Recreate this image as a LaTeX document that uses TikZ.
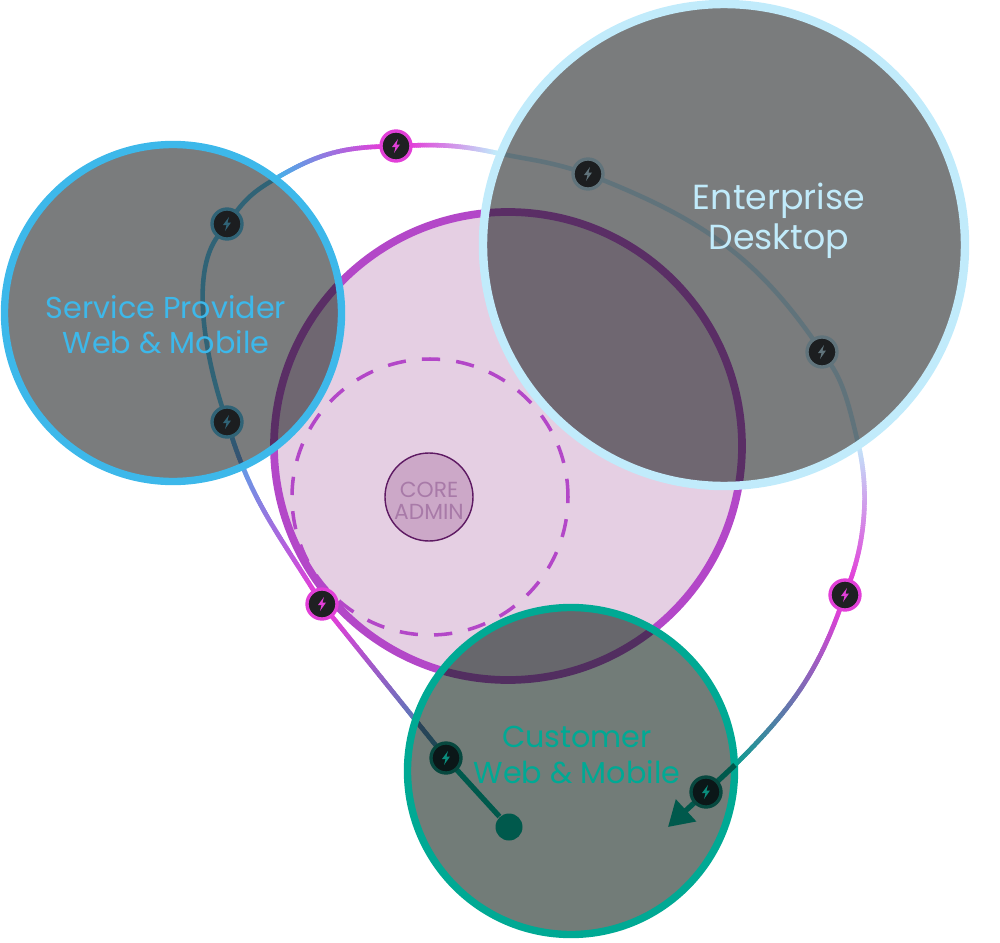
\documentclass[tikz,border=0pt]{standalone}
\usepackage{fontspec}
\setmainfont{Poppins}
\usepackage{tikz}
\usetikzlibrary{arrows.meta, decorations.markings}
\usepackage{xcolor}

\definecolor{coreline}{HTML}{B347C8}
\definecolor{coreface}{HTML}{E5CFE3}
\definecolor{adminface}{HTML}{CCA8C8}
\definecolor{adminline}{HTML}{5E1A63}
\definecolor{admintext}{HTML}{A87AA8}
\definecolor{provblue}{HTML}{3DB8EA}
\definecolor{wireblue}{HTML}{4AAEE8}
\definecolor{wirecyan}{HTML}{4FC4F0}
\definecolor{entblue}{HTML}{C1EBFB}
\definecolor{custgreen}{HTML}{00A994}
\definecolor{deepgreen}{HTML}{00594C}
\definecolor{wireteal}{HTML}{0F9C90}
\definecolor{wiredusk}{HTML}{3A85B0}
\definecolor{wiremag}{HTML}{E23FD8}
\definecolor{darktint}{HTML}{1A1D1F}
\definecolor{greentint}{HTML}{0C1D16}
\definecolor{hopface}{HTML}{1F2022}
\definecolor{hopdeep}{HTML}{0B1718}
\definecolor{hoprim}{HTML}{07483F}
\definecolor{hopbolt}{HTML}{0A8C7C}

\pgfdeclarelayer{under}
\pgfdeclarelayer{wires}
\pgfdeclarelayer{hops}
\pgfdeclarelayer{upper}
\pgfdeclarelayer{upperhops}
\pgfsetlayers{under,wires,hops,main,upper,upperhops}

\begin{document}
\begin{tikzpicture}[
  x=0.1mm, y=0.1mm,
  zone/.style={circle, inner sep=0pt, outer sep=0pt, line width=2.1pt, fill=darktint, fill opacity=0.58, draw opacity=1},
  zonelab/.style={align=center, font=\fontsize{8.6}{10}\selectfont},
  wire/.style={line width=1.3pt},
  deepwire/.style={draw=deepgreen, line width=1.5pt},
  gradwire/.style 2 args={decoration={markings, mark=between positions 0 and 1 step 0.6pt with {
      \pgfmathsetmacro\gradpct{min(100,100*\pgfkeysvalueof{/pgf/decoration/mark info/distance from start}/\pgfdecoratedpathlength)}
      \colorlet{gradcol}{#2!\gradpct!#1}
      \draw[gradcol, line width=1.3pt] (-0.5pt,0) -- (0.5pt,0);
    }}, decorate},
  boltnode/.style 2 args={circle, inner sep=0pt, outer sep=0pt, minimum size=3mm, line width=0.95pt, draw=#1, fill=hopface,
    path picture={\fill[#2, shift={(path picture bounding box.center)}]
      (2,7) -- (-4,-1) -- (-0.5,-1) -- (-2,-7) -- (4,1.5) -- (0.5,1.5) -- cycle;}},
]
\useasboundingbox (0,0) rectangle (1000,-943);

% core rings
\begin{pgfonlayer}{under}
\node[circle, draw=coreline, fill=coreface, line width=2.2pt, minimum size=46.8mm, inner sep=0pt] (core) at (508,-446) {};
\node[circle, draw=coreline, line width=1pt, dash pattern=on 5.2pt off 4.6pt, minimum size=27.6mm, inner sep=0pt] (inner) at (430,-497) {};
\node[circle, draw=adminline, fill=adminface, line width=0.4pt, minimum size=8.8mm, inner sep=0pt] (admin) at (429,-497) {};
\node[text=admintext, align=center, font=\fontsize{6.2}{6.3}\selectfont] (adminlab) at (429,-501) {CORE\\ADMIN};
\end{pgfonlayer}

% hops
\begin{pgfonlayer}{hops}
\node[boltnode={wiremag}{wiremag}]   (hopb) at (322,-604) {};
\node[boltnode={wirecyan}{wirecyan}] (hopc) at (227,-422) {};
\node[boltnode={wirecyan}{wirecyan}] (hope) at (227,-224) {};
\node[boltnode={wiremag}{wiremag}]   (hopf) at (396,-146) {};
\node[boltnode={entblue}{entblue}]   (hopg) at (588,-174) {};
\node[boltnode={entblue}{entblue}]   (hoph) at (822,-352) {};
\node[boltnode={wiremag}{wiremag}]   (hopi) at (845,-595) {};
\end{pgfonlayer}
\begin{pgfonlayer}{upperhops}
\node[boltnode={hoprim}{hopbolt}, fill=hopdeep] (hopa) at (446,-758) {};
\node[boltnode={hoprim}{hopbolt}, fill=hopdeep] (hopj) at (706,-792) {};
\node[circle, fill=deepgreen, minimum size=2.7mm, inner sep=0pt] (dot) at (509,-827) {};
\end{pgfonlayer}

\coordinate (provout) at (280,-176);
\coordinate (entin) at (497,-153);
\coordinate (entout) at (858,-443);
\coordinate (custin) at (735,-765);
\coordinate (tip) at (668,-827);

% wire pieces
\begin{pgfonlayer}{wires}
\path[gradwire={wiredusk}{wiremag}] (hopa) -- (hopb);
\path[gradwire={wiremag}{wireblue}] (hopb) to[out=122, in=288] (hopc);
\draw[wire, draw=wirecyan] (hopc) to[out=108, in=233, looseness=0.72] (hope);
\draw[wire, draw=wirecyan] (hope) to[out=53, in=210] (provout);
\path[gradwire={wireblue}{wiremag}] (provout) to[out=30, in=182] (hopf);
\path[gradwire={wiremag}{entblue}] (hopf) to[out=2, in=168] (entin);
\draw[wire, draw=entblue] (entin) to[out=-12, in=163] (hopg);
\draw[wire, draw=entblue] (hopg) to[out=-22, in=125] (hoph);
\draw[wire, draw=entblue] (hoph) to[out=-55, in=104, looseness=0.8] (entout);
\path[gradwire={entblue}{wiremag}] (entout) to[out=-76, in=70, looseness=0.85] (hopi);
\path[gradwire={wiremag}{wireteal}] (hopi) to[out=-110, in=45] (custin);
\end{pgfonlayer}

% tinted zones
\node[zone, draw=provblue, minimum size=33.7mm] (prov) at (173,-313) {};
\node[zone, draw=entblue, line width=2.4pt, minimum size=48.2mm] (ent) at (724,-245) {};
\node[zone, draw=custgreen, fill=greentint, minimum size=32.7mm] (cust) at (571,-771) {};

\begin{pgfonlayer}{upper}
\draw[deepwire] (dot) -- (hopa);
\draw[deepwire] (custin) -- (hopj);
\draw[deepwire, -{Triangle[length=7pt, width=8.2pt]}] (hopj) -- (tip);
\node[zonelab, text=provblue] (provlab) at (166,-325) {Service Provider\\Web \& Mobile};
\node[zonelab, text=entblue, font=\fontsize{9.9}{11.4}\selectfont] (entlab) at (779,-221) {Enterprise\\Desktop};
\node[zonelab, text=custgreen] (custlab) at (577,-755) {Customer\\Web \& Mobile};
\end{pgfonlayer}

\end{tikzpicture}
\end{document}
